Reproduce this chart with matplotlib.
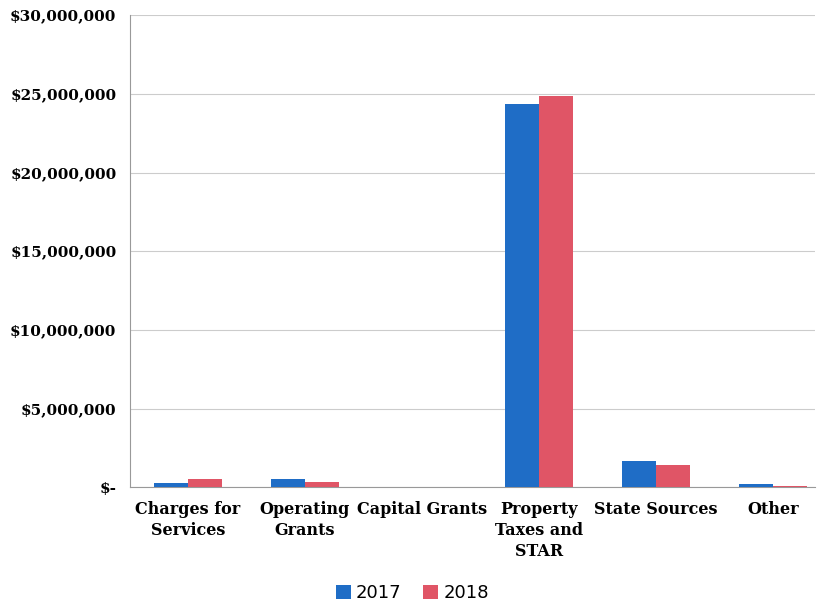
import matplotlib.pyplot as plt
import numpy as np

categories = ['Charges for\nServices', 'Operating\nGrants', 'Capital Grants',
              'Property\nTaxes and\nSTAR', 'State Sources', 'Other']
values_2017 = [250000, 550000, 20000, 24350000, 1650000, 200000]
values_2018 = [550000, 330000, 10000, 24850000, 1400000, 100000]
yticks = [0, 5000000, 10000000, 15000000, 20000000, 25000000, 30000000]
ytick_labels = ['$-', '$5,000,000', '$10,000,000', '$15,000,000',
                '$20,000,000', '$25,000,000', '$30,000,000']

fig = plt.figure(figsize=(8.25, 6.06), dpi=100)
ax = fig.add_axes([0.158, 0.196, 0.83, 0.779])

x = np.arange(len(categories))
w = 0.29
ax.bar(x - w/2, values_2017, w, color='#1f6dc6', label='2017', zorder=3)
ax.bar(x + w/2, values_2018, w, color='#e05566', label='2018', zorder=3)

ax.set_ylim(0, 30000000)
ax.set_xlim(-0.493, 5.36)
ax.set_yticks(yticks)
ax.set_yticklabels(ytick_labels, fontfamily='DejaVu Serif', fontweight='bold', fontsize=11)
ax.set_xticks(x)
ax.set_xticklabels(categories, fontfamily='DejaVu Serif', fontweight='bold', fontsize=11.5,
                   va='top', linespacing=1.3)
ax.tick_params(axis='y', length=0, pad=10)
ax.tick_params(axis='x', length=0, pad=10)
ax.grid(axis='y', color='#cccccc', linewidth=0.8, zorder=0)
for s in ['top', 'right']:
    ax.spines[s].set_visible(False)
ax.spines['left'].set_color('#999999')
ax.spines['bottom'].set_color('#999999')

fig.legend(loc='lower center', bbox_to_anchor=(0.5, -0.02), ncol=2, frameon=False,
           prop={'family': 'DejaVu Sans', 'size': 13}, handlelength=0.8,
           handleheight=0.8, columnspacing=1.2, handletextpad=0.3)

fig.savefig('out.png', dpi=100)
